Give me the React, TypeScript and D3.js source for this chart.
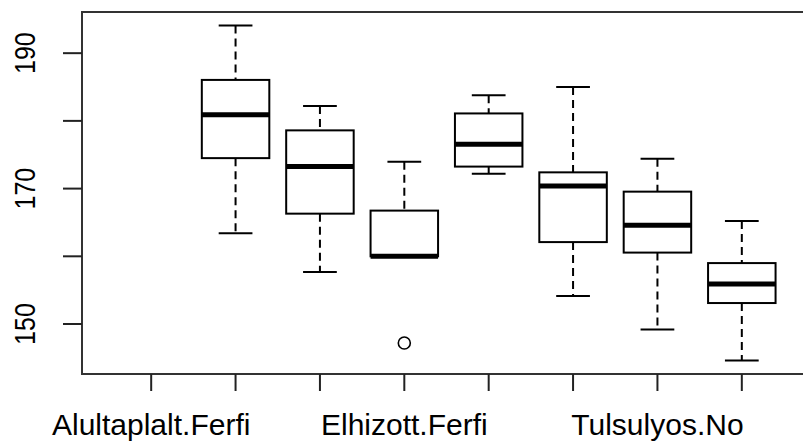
import React from "react";
import * as d3 from "d3";

// groups in plotting order (first group has no observations)
const categories = [
  "Alultaplalt.Ferfi",
  "Alultaplalt.No",
  "Egeszseges.Ferfi",
  "Elhizott.Ferfi",
  "Elhizott.No",
  "Normal.Ferfi",
  "Tulsulyos.No",
  "Normal.No",
];
// R drops overlapping axis labels, only these survive
const shownLabels = [0, 3, 6];

const whiskerLow = [null, 163.4, 157.7, 160.0, 172.2, 154.15, 149.2, 144.6];
const q1 = [null, 174.5, 166.3, 160.0, 173.25, 162.1, 160.55, 153.1];
const median = [null, 180.9, 173.25, 160.0, 176.55, 170.4, 164.6, 155.9];
const q3 = [null, 186.05, 178.6, 166.75, 181.1, 172.4, 169.55, 159.0];
const whiskerHigh = [null, 194.1, 182.2, 173.95, 183.8, 185.0, 174.4, 165.2];
const outliers: number[][] = [[], [], [], [147.2], [], [], [], []];

const yTicks = [150, 160, 170, 180, 190];

const W = 803;
const H = 441;
const plot = { left: 82, right: 811, top: 12, bottom: 374 };

export default function App() {
  const n = categories.length;
  // R: xlim c(0.5, n + 0.5) padded by 4%
  const x = d3
    .scaleLinear()
    .domain([0.5 - 0.04 * n, n + 0.5 + 0.04 * n])
    .range([plot.left, plot.right]);

  const lo = d3.min(whiskerLow.concat(...outliers).filter((v) => v != null) as number[])!;
  const hi = d3.max(whiskerHigh.filter((v) => v != null) as number[])!;
  const pad = (hi - lo) * 0.04;
  const y = d3.scaleLinear().domain([lo - pad, hi + pad]).range([plot.bottom, plot.top]);

  const boxHalf = x(1.4) - x(1);
  const stapleHalf = x(1.2) - x(1);

  return (
    <svg
      width={W}
      height={H}
      style={{ position: "absolute", left: 0, top: 0, background: "#fff" }}
      fontFamily="'Liberation Sans', Arial, sans-serif"
    >
      <defs>
        <clipPath id="page">
          <rect x={0} y={0} width={W} height={H} />
        </clipPath>
      </defs>

      {categories.map((c, i) => {
        if (median[i] == null) return null;
        const cx = x(i + 1);
        return (
          <g key={c} stroke="#000" fill="none">
            {/* whiskers */}
            <line
              x1={cx}
              x2={cx}
              y1={y(whiskerHigh[i]!)}
              y2={y(q3[i]!)}
              strokeWidth={2}
              strokeDasharray="8,5"
            />
            <line
              x1={cx}
              x2={cx}
              y1={y(q1[i]!)}
              y2={y(whiskerLow[i]!)}
              strokeWidth={2}
              strokeDasharray="8,5"
            />
            {/* staples */}
            <line x1={cx - stapleHalf} x2={cx + stapleHalf} y1={y(whiskerHigh[i]!)} y2={y(whiskerHigh[i]!)} strokeWidth={2} />
            <line x1={cx - stapleHalf} x2={cx + stapleHalf} y1={y(whiskerLow[i]!)} y2={y(whiskerLow[i]!)} strokeWidth={2} />
            {/* box */}
            <rect
              x={cx - boxHalf}
              y={y(q3[i]!)}
              width={boxHalf * 2}
              height={y(q1[i]!) - y(q3[i]!)}
              fill="#fff"
              strokeWidth={2}
            />
            <line x1={cx - boxHalf} x2={cx + boxHalf} y1={y(median[i]!)} y2={y(median[i]!)} strokeWidth={5} />
            {outliers[i].map((v, j) => (
              <circle key={j} cx={cx} cy={y(v)} r={6} strokeWidth={1.6} />
            ))}
          </g>
        );
      })}

      {/* plot frame */}
      <rect
        x={plot.left}
        y={plot.top}
        width={plot.right - plot.left}
        height={plot.bottom - plot.top}
        fill="none"
        stroke="#333"
        strokeWidth={2}
        clipPath="url(#page)"
      />

      {/* y axis */}
      {yTicks.map((t) => (
        <line key={t} x1={plot.left - 19} x2={plot.left} y1={y(t)} y2={y(t)} stroke="#222" strokeWidth={2} />
      ))}
      {yTicks
        .filter((t, i) => i % 2 === 0)
        .map((t) => (
          <text
            key={t}
            transform={`translate(34.5,${y(t)}) rotate(-90) scale(1,1.15)`}
            textAnchor="middle"
            fontSize={25}
            fill="#000"
          >
            {t}
          </text>
        ))}

      {/* x axis */}
      {categories.map((c, i) => (
        <line
          key={c}
          x1={x(i + 1)}
          x2={x(i + 1)}
          y1={plot.bottom}
          y2={plot.bottom + 17}
          stroke="#222"
          strokeWidth={2}
        />
      ))}
      {shownLabels.map((i) => (
        <text key={i} x={x(i + 1)} y={435} textAnchor="middle" fontSize={30} fill="#000">
          {categories[i]}
        </text>
      ))}
    </svg>
  );
}
